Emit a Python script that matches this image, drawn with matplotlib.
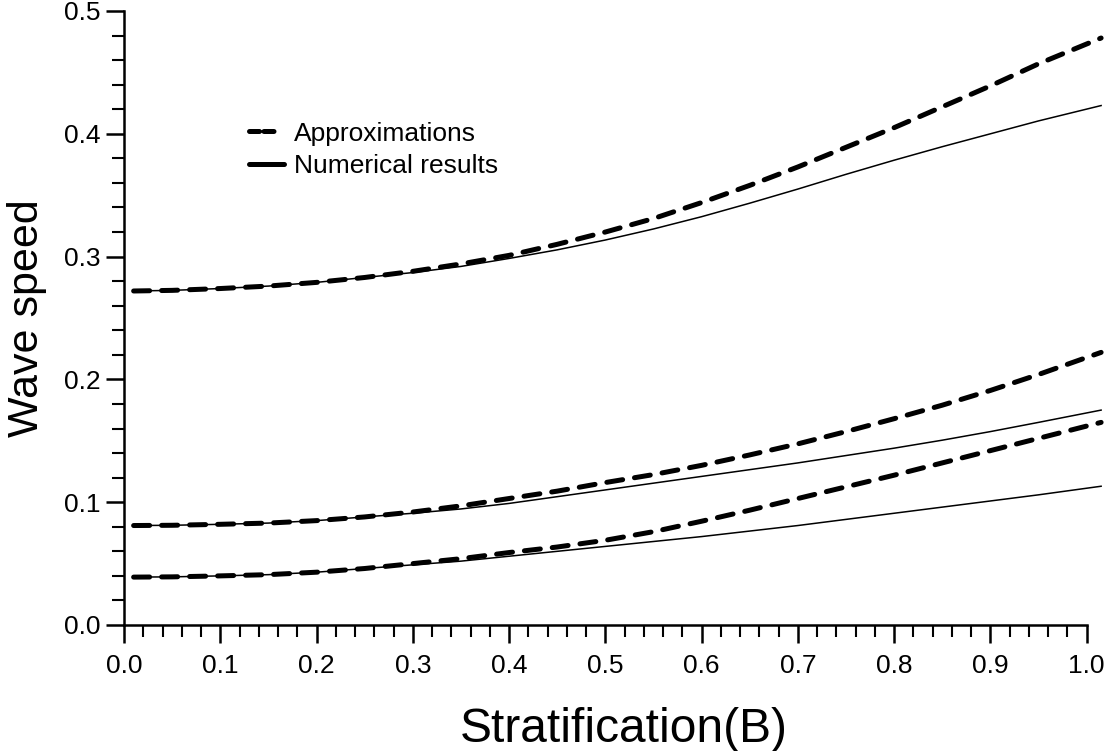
import matplotlib
matplotlib.use('Agg')
import matplotlib.pyplot as plt
from matplotlib.lines import Line2D
from matplotlib.ticker import MultipleLocator, FormatStrFormatter

# ── data ─────────────────────────────────────────────────────
B = [0.01, 0.05, 0.10, 0.15, 0.20, 0.25, 0.30, 0.35, 0.40, 0.45, 0.50,
     0.55, 0.60, 0.65, 0.70, 0.75, 0.80, 0.85, 0.90, 0.95, 1.015]

top_approx = [0.272, 0.2725, 0.274, 0.276, 0.279, 0.283, 0.288, 0.294, 0.301, 0.310, 0.320,
              0.331, 0.344, 0.358, 0.373, 0.389, 0.405, 0.422, 0.439, 0.457, 0.478]
top_num    = [0.272, 0.2725, 0.274, 0.276, 0.279, 0.283, 0.287, 0.292, 0.2985, 0.3055, 0.3135,
              0.3225, 0.3325, 0.3435, 0.355, 0.367, 0.3785, 0.3895, 0.400, 0.4105, 0.423]

mid_approx = [0.081, 0.0812, 0.082, 0.083, 0.085, 0.088, 0.092, 0.097, 0.103, 0.109, 0.116,
              0.1225, 0.130, 0.1385, 0.1475, 0.1575, 0.168, 0.179, 0.191, 0.204, 0.222]
mid_num    = [0.081, 0.0812, 0.082, 0.083, 0.085, 0.088, 0.091, 0.0945, 0.099, 0.1045, 0.110,
              0.1155, 0.121, 0.1265, 0.132, 0.138, 0.144, 0.1505, 0.1575, 0.165, 0.175]

low_approx = [0.039, 0.0392, 0.040, 0.041, 0.043, 0.046, 0.050, 0.054, 0.059, 0.0635, 0.069,
              0.076, 0.0845, 0.0935, 0.103, 0.1125, 0.122, 0.132, 0.142, 0.152, 0.165]
low_num    = [0.039, 0.0392, 0.040, 0.041, 0.043, 0.046, 0.049, 0.052, 0.056, 0.060, 0.064,
              0.068, 0.072, 0.0765, 0.081, 0.086, 0.091, 0.096, 0.101, 0.106, 0.113]

xticks = [0.0, 0.1, 0.2, 0.3, 0.4, 0.5, 0.6, 0.7, 0.8, 0.9, 1.0]
yticks = [0.0, 0.1, 0.2, 0.3, 0.4, 0.5]

# ── style ────────────────────────────────────────────────────
plt.rcParams.update({
    'font.family': ['Liberation Sans', 'DejaVu Sans'],
    'text.color': 'black',
})

fig = plt.figure(figsize=(11.09, 7.51), dpi=100, facecolor='white')
ax = fig.add_axes([124 / 1109, 126 / 751, 980 / 1109, 614 / 751])

dash_kw = dict(color='black', lw=3.6, dashes=(3.2, 2.4),
               dash_capstyle='round', solid_capstyle='round')
num_kw = dict(color='black', lw=1.1)

for approx, num in [(top_approx, top_num), (mid_approx, mid_num), (low_approx, low_num)]:
    ax.plot(B, num, **num_kw, clip_on=False)
    ax.plot(B, approx, **dash_kw, clip_on=False)

ax.set_xlim(0, 1.018)
ax.set_ylim(0, 0.5)

for s in ['top', 'right']:
    ax.spines[s].set_visible(False)
for s in ['left', 'bottom']:
    ax.spines[s].set_linewidth(1.8)
ax.spines['bottom'].set_bounds(0, 1.0)
ax.spines['left'].set_bounds(0, 0.5)

ax.set_xticks(xticks)
ax.set_yticks(yticks)
ax.xaxis.set_minor_locator(MultipleLocator(0.02))
ax.yaxis.set_minor_locator(MultipleLocator(0.02))
ax.xaxis.set_major_formatter(FormatStrFormatter('%.1f'))
ax.yaxis.set_major_formatter(FormatStrFormatter('%.1f'))
ax.tick_params(which='major', direction='out', length=13, width=1.8, labelsize=19)
ax.tick_params(which='minor', direction='out', length=8.5, width=1.5)
ax.tick_params(axis='x', which='major', pad=8)
ax.tick_params(axis='y', which='major', pad=4)

ax.set_xlabel('Stratification(B)', fontsize=34.5, labelpad=21)
ax.xaxis.label.set_x(0.51)
ax.set_ylabel('Wave speed', fontsize=31, labelpad=12)

# ── legend ───────────────────────────────────────────────────
handles = [
    Line2D([], [], color='black', lw=3.6, dashes=(2.0, 0.9, 2.0, 20), dash_capstyle='round'),
    Line2D([], [], color='black', lw=3.6, solid_capstyle='round'),
]
ax.legend(handles, ['Approximations', 'Numerical results'],
          loc='upper left', bbox_to_anchor=(0.128, 0.82),
          frameon=False, fontsize=19, handlelength=1.3,
          handletextpad=0.4, labelspacing=0.33, borderpad=0, borderaxespad=0)

plt.savefig('out.png', dpi=100, facecolor='white')
